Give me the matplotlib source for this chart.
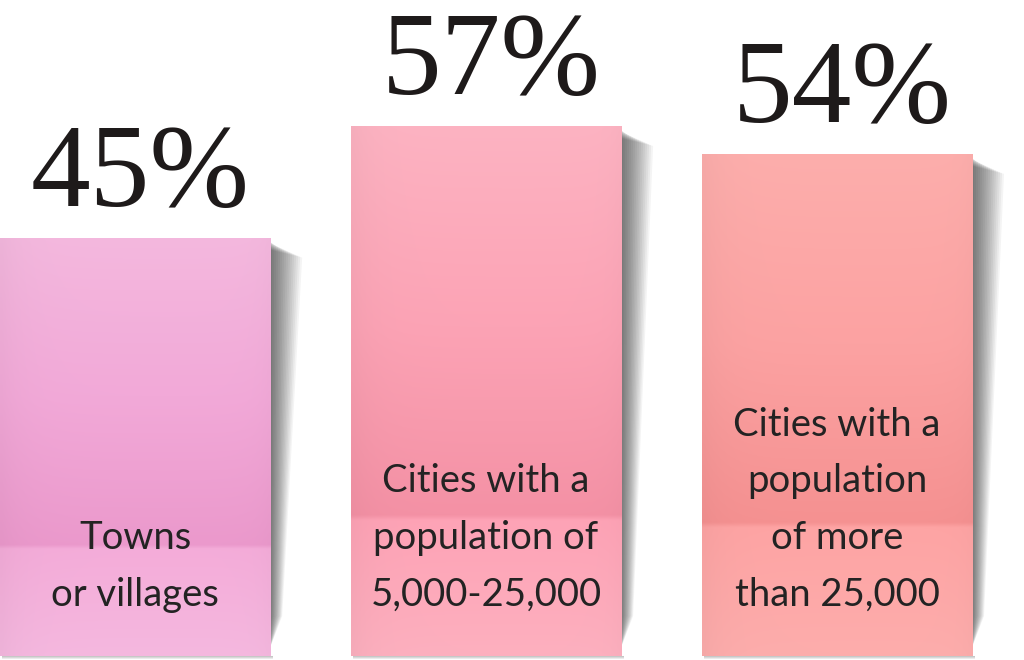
import numpy as np
import matplotlib
matplotlib.use("Agg")
import matplotlib.pyplot as plt
from matplotlib.patches import Polygon
from matplotlib.colors import to_rgb

# ---- data ----
categories = ["Towns\nor villages",
              "Cities with a\npopulation of\n5,000-25,000",
              "Cities with a\npopulation\nof more\nthan 25,000"]
values = [45, 57, 54]
value_labels = ["45%", "57%", "54%"]

# ---- styles ----
# (top, middle, dark band above fold, below fold, bottom)
bar_palettes = [
    ["#f4b8de", "#f2a9d8", "#eb99cc", "#f4acd9", "#f5b8df"],
    ["#fdb3c2", "#fca3b5", "#f491a5", "#fea3b6", "#fdb0bf"],
    ["#fdaeac", "#fca2a2", "#f59191", "#fea4a4", "#fdadac"],
]
bar_width = 0.77
fig_w, fig_h, dpi = 10.24, 6.6, 100
x_lim = (-0.385, 2.533)
y_lim = (-0.43, 70.54)

fig = plt.figure(figsize=(fig_w, fig_h), dpi=dpi)
ax = fig.add_axes([0, 0, 1, 1])
ax.set_axis_off()

x = np.arange(len(values))
bars = ax.bar(x, values, width=bar_width, color="none", edgecolor="none", zorder=3)

# pixel size in data units
px_x = (x_lim[1] - x_lim[0]) / (fig_w * dpi)
px_y = (y_lim[1] - y_lim[0]) / (fig_h * dpi)

for rect, pal in zip(bars, bar_palettes):
    x0 = rect.get_x()
    w = rect.get_width()
    h = rect.get_height()
    R = x0 + w
    # soft skewed drop shadow on the right side
    n = 16
    for k in range(1, n + 1):
        f = k / n
        poly = [
            (R - 1 * px_x, h - (2 + 10 * f) * px_y),
            (R + 32 * f * px_x, h - (6 + 14 * f) * px_y),
            (R + 12 * f * px_x, 40 * px_y),
            (R - 1 * px_x, 6 * px_y),
        ]
        ax.add_patch(Polygon(poly, closed=True, facecolor="black",
                             edgecolor="none", alpha=0.045, zorder=1))
    # thin shadow below bar
    for k in range(1, 4):
        ax.add_patch(Polygon([(x0 + 2 * px_x, 0), (R + 3 * px_x, 0),
                              (R + 3 * px_x, -k * px_y), (x0 + 2 * px_x, -k * px_y)],
                             closed=True, facecolor="black", edgecolor="none",
                             alpha=0.08, zorder=1))
    # vertical gradient fill clipped to the bar
    stops = [1.0, 0.62, 0.265, 0.255, 0.0]
    cols = np.array([to_rgb(c) for c in pal])
    fr = np.linspace(0, 1, 400)
    grad = np.stack([np.interp(fr, stops[::-1], cols[::-1, i]) for i in range(3)], axis=-1)
    hx = np.linspace(0, 1, 60)
    shade = 1 - 0.03 * np.exp(-hx / 0.08) - 0.015 * np.exp(-(1 - hx) / 0.05)
    img = np.clip(grad[:, None, :] * shade[None, :, None], 0, 1)
    im = ax.imshow(img, extent=(x0, R, 0, h), origin="lower", aspect="auto",
                   interpolation="bilinear", zorder=3)
    clip = plt.Rectangle((x0, 0), w, h, transform=ax.transData, facecolor="none",
                         edgecolor="none")
    ax.add_patch(clip)
    im.set_clip_path(clip)

for xi, v, lab in zip(x, values, value_labels):
    ax.text(xi + 0.015, v + 3.4, lab, ha="center", va="baseline",
            fontsize=86, family="Liberation Serif", color="#1e1a1a", zorder=5)

for xi, cat in zip(x, categories):
    ax.text(xi, 4.6, cat, ha="center", va="bottom", fontsize=27.5,
            family="Lato", color="#232323", linespacing=1.72, zorder=5)

ax.set_xlim(*x_lim)
ax.set_ylim(*y_lim)
fig.savefig("out.png", dpi=dpi, facecolor="white")
